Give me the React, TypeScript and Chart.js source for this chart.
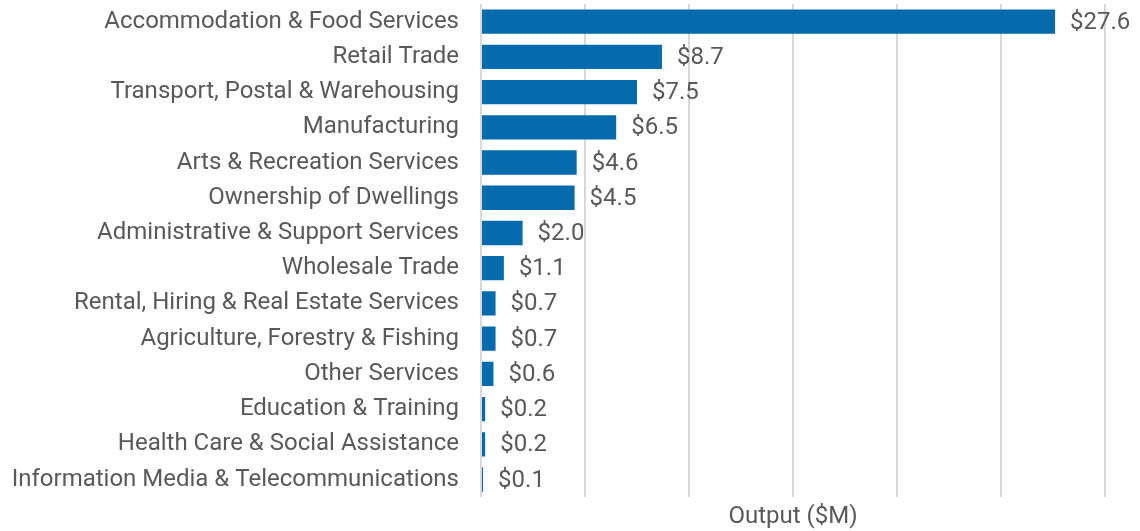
import React, { useEffect, useRef } from "react";
import { Chart, registerables } from "chart.js";

Chart.register(...registerables);

const categories = [
  "Accommodation & Food Services",
  "Retail Trade",
  "Transport, Postal & Warehousing",
  "Manufacturing",
  "Arts & Recreation Services",
  "Ownership of Dwellings",
  "Administrative & Support Services",
  "Wholesale Trade",
  "Rental, Hiring & Real Estate Services",
  "Agriculture, Forestry & Fishing",
  "Other Services",
  "Education & Training",
  "Health Care & Social Assistance",
  "Information Media & Telecommunications",
];

const outputValues = [27.6, 8.7, 7.5, 6.5, 4.6, 4.5, 2.0, 1.1, 0.7, 0.7, 0.6, 0.2, 0.2, 0.1];

const axisTitle = "Output ($M)";

const TEXT_COLOR = "#595959";
const BAR_COLOR = "#066bad";
const FONT = "Roboto";
const FONT_SIZE = 24;

const valueLabelPlugin = {
  id: "valueLabels",
  afterDatasetsDraw(chart: any) {
    const ctx = chart.ctx;
    const meta = chart.getDatasetMeta(0);
    ctx.save();
    ctx.font = `${FONT_SIZE}px ${FONT}`;
    ctx.fillStyle = TEXT_COLOR;
    ctx.textAlign = "left";
    ctx.textBaseline = "middle";
    meta.data.forEach((bar: any, i: number) => {
      const v = outputValues[i];
      ctx.fillText("$" + v.toFixed(1), bar.x + 15, bar.y + 1);
    });
    ctx.restore();
  },
};

export default function App() {
  const canvasRef = useRef<HTMLCanvasElement | null>(null);

  useEffect(() => {
    document.body.style.margin = "0";
    const canvas = canvasRef.current;
    if (!canvas) return;
    const chart = new Chart(canvas, {
      type: "bar",
      data: {
        labels: categories,
        datasets: [
          {
            data: outputValues,
            backgroundColor: BAR_COLOR,
            borderWidth: 0,
            categoryPercentage: 1,
            barPercentage: 0.69,
          },
        ],
      },
      options: {
        indexAxis: "y",
        animation: false,
        responsive: false,
        maintainAspectRatio: false,
        layout: { padding: { top: 4, right: 35, bottom: 0, left: 0 } },
        plugins: {
          legend: { display: false },
          tooltip: { enabled: false },
        },
        scales: {
          x: {
            min: 0,
            max: 30,
            ticks: { display: false, stepSize: 5 },
            grid: { color: "#d9d9d9", lineWidth: 2, drawTicks: false },
            border: { display: false },
            title: {
              display: true,
              text: axisTitle,
              color: TEXT_COLOR,
              font: { family: FONT, size: FONT_SIZE },
              padding: { top: 5, bottom: 0 },
            },
          },
          y: {
            grid: { display: false, drawTicks: false },
            border: { display: false },
            ticks: {
              color: TEXT_COLOR,
              font: { family: FONT, size: FONT_SIZE },
              padding: 22,
              autoSkip: false,
            },
            afterFit(scale: any) {
              scale.width = 481;
              scale.paddingTop = 0;
              scale.paddingBottom = 0;
            },
          },
        },
      },
      plugins: [valueLabelPlugin],
    });
    return () => chart.destroy();
  }, []);

  return (
    <div style={{ width: 1140, height: 531 }}>
      <canvas ref={canvasRef} width={1140} height={531} style={{ display: "block" }} />
    </div>
  );
}
